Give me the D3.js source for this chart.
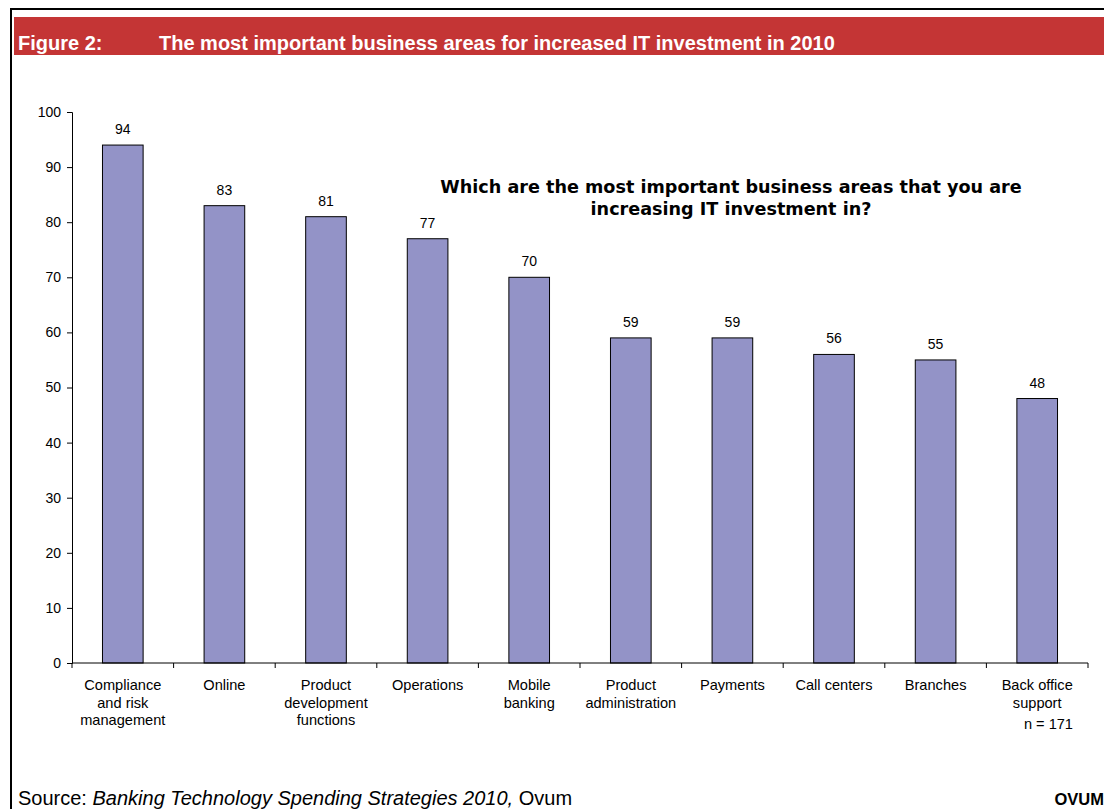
<!DOCTYPE html>
<html>
<head>
<meta charset="utf-8">
<script src="https://cdn.jsdelivr.net/npm/d3@7"></script>
<style>
  html, body { margin: 0; padding: 0; background: #fff; }
  svg { display: block; font-family: "Liberation Sans", Arial, sans-serif; }
</style>
</head>
<body>
<svg id="chart" width="1104" height="809"></svg>
<script>
// Survey results: share of respondents increasing IT investment, by business area
const categories = [
  ["Compliance", "and risk", "management"],
  ["Online"],
  ["Product", "development", "functions"],
  ["Operations"],
  ["Mobile", "banking"],
  ["Product", "administration"],
  ["Payments"],
  ["Call centers"],
  ["Branches"],
  ["Back office", "support"]
];
const values = [94, 83, 81, 77, 70, 59, 59, 56, 55, 48];
const yTicks = [0, 10, 20, 30, 40, 50, 60, 70, 80, 90, 100];

const svg = d3.select("#chart");

// Frame and header band
svg.append("line").attr("x1", 10).attr("x2", 1104).attr("y1", 9).attr("y2", 9)
  .attr("stroke", "#000").attr("stroke-width", 2);
svg.append("line").attr("x1", 11).attr("x2", 11).attr("y1", 8).attr("y2", 809)
  .attr("stroke", "#000").attr("stroke-width", 2);
svg.append("rect").attr("x", 14).attr("y", 17).attr("width", 1090).attr("height", 38)
  .attr("fill", "#c43535");
svg.append("text").attr("x", 18).attr("y", 50)
  .attr("fill", "#fff").attr("font-weight", "bold").attr("font-size", 20)
  .text("Figure 2:");
svg.append("text").attr("x", 159).attr("y", 50)
  .attr("fill", "#fff").attr("font-weight", "bold").attr("font-size", 20)
  .text("The most important business areas for increased IT investment in 2010");

// Plot geometry
const x0 = 72, x1 = 1088, yTop = 112, yBot = 663;
const x = d3.scaleBand().domain(d3.range(categories.length)).range([x0, x1]).paddingInner(0.6).paddingOuter(0.3);
const y = d3.scaleLinear().domain([0, 100]).range([yBot, yTop]);

// Y axis
const yAxis = svg.append("g").attr("transform", `translate(${x0},0)`)
  .call(d3.axisLeft(y).tickValues(yTicks).tickSize(5).tickPadding(6));
yAxis.select(".domain").attr("stroke", "#000");
yAxis.selectAll("line").attr("stroke", "#000");
yAxis.selectAll("text").attr("font-size", 14).attr("fill", "#000")
  .attr("font-family", "Liberation Sans, Arial, sans-serif");

// Bars
const bw = x.bandwidth();
svg.append("g").selectAll("rect").data(values).join("rect")
  .attr("x", (d, i) => x(i))
  .attr("y", d => y(d))
  .attr("width", bw)
  .attr("height", d => yBot - y(d))
  .attr("fill", "#9393c7")
  .attr("stroke", "#000")
  .attr("stroke-width", 1);

// Value labels
svg.append("g").selectAll("text").data(values).join("text")
  .attr("x", (d, i) => x(i) + bw / 2)
  .attr("y", d => y(d) - 11)
  .attr("text-anchor", "middle")
  .attr("font-size", 14)
  .text(d => d);

// X axis baseline with category boundary ticks
const step = (x1 - x0) / categories.length;
svg.append("line").attr("x1", x0).attr("x2", x1).attr("y1", yBot).attr("y2", yBot)
  .attr("stroke", "#000");
svg.append("g").selectAll("line").data(d3.range(categories.length + 1)).join("line")
  .attr("x1", i => x0 + i * step).attr("x2", i => x0 + i * step)
  .attr("y1", yBot).attr("y2", yBot + 5)
  .attr("stroke", "#000");

// Category labels
const lab = svg.append("g").selectAll("text").data(categories).join("text")
  .attr("text-anchor", "middle")
  .attr("font-size", 14.6)
  .attr("transform", (d, i) => `translate(${x(i) + bw / 2},${yBot + 27})`);
lab.selectAll("tspan").data(d => d).join("tspan")
  .attr("x", 0)
  .attr("dy", (d, j) => j === 0 ? 0 : 17.5)
  .text(d => d);

svg.append("text").attr("x", 1073).attr("y", 729).attr("text-anchor", "end")
  .attr("font-size", 14.6).text("n = 171");

// Question subtitle
const q = svg.append("text").attr("text-anchor", "middle")
  .attr("font-family", "DejaVu Sans, Verdana, sans-serif")
  .attr("font-weight", "bold").attr("font-size", 17.6);
q.append("tspan").attr("x", 731).attr("y", 193).text("Which are the most important business areas that you are");
q.append("tspan").attr("x", 731).attr("y", 215).text("increasing IT investment in?");

// Source line
const src = svg.append("text").attr("x", 18).attr("y", 805).attr("font-size", 20);
src.append("tspan").text("Source: ");
src.append("tspan").attr("font-style", "italic").text("Banking Technology Spending Strategies 2010,");
src.append("tspan").text(" Ovum");
svg.append("text").attr("x", 1104).attr("y", 805).attr("text-anchor", "end")
  .attr("font-size", 16.5).attr("font-weight", "bold").text("OVUM");
</script>
</body>
</html>
